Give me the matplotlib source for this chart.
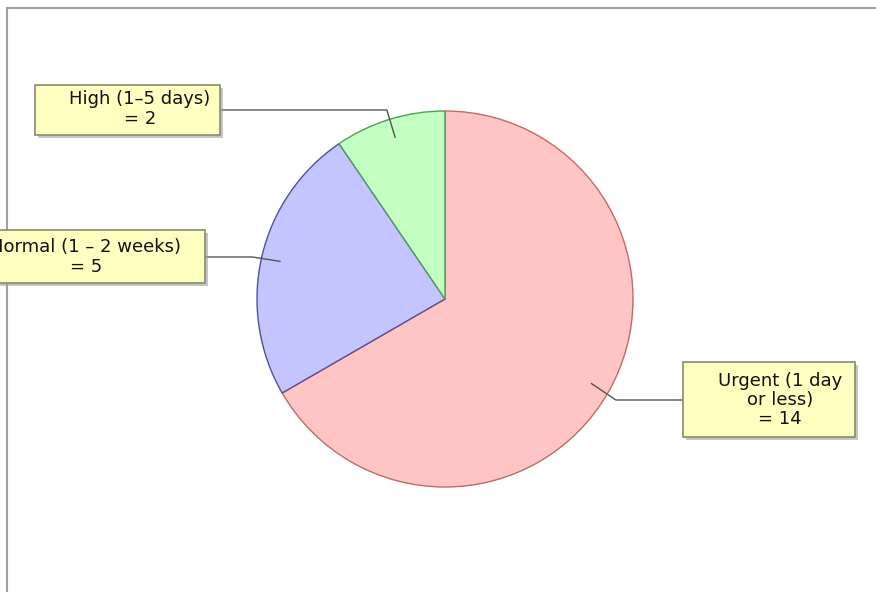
import numpy as np
import matplotlib
matplotlib.use("Agg")
import matplotlib.pyplot as plt
from matplotlib.patches import Rectangle

labels = ["Urgent (1 day\nor less)", "Normal (1 – 2 weeks)", "High (1–5 days)"]
values = [14, 5, 2]
colors = ["#FFC4C4", "#C4C4FF", "#C4FFC4"]
edges = ["#C06a6a", "#5050A0", "#50A050"]

W, H = 876, 592
fig = plt.figure(figsize=(W / 100, H / 100), dpi=100)
ax = fig.add_axes([0, 0, 1, 1])
ax.set_xlim(0, W)
ax.set_ylim(0, H)
ax.set_aspect("equal")
ax.axis("off")

# frame
ax.add_patch(Rectangle((7, -10), W + 20, H - 8 + 10, fill=False, edgecolor="#A0A0A0", lw=1.5))

cx, cy, r = 445, H - 299, 188
wedges, _ = ax.pie(values, colors=colors, startangle=90, counterclock=False,
                   center=(cx, cy), radius=r, frame=True,
                   wedgeprops=dict(linewidth=1.0))
for w, ec in zip(wedges, edges):
    w.set_edgecolor(ec)
ax.set_xlim(0, W)
ax.set_ylim(0, H)
ax.axis("off")

# label boxes: (left, top, right, bottom) in image pixel coords
boxes = [(683, 362, 855, 437), (-20, 230, 205, 283), (35, 85, 220, 135)]
text_pos = [(780, 400), (86, 257), (140, 109)]
line_y = [400, 257, 110]

for w, v, lab, (l, t, rr, b), (tx, ty), ly in zip(wedges, values, labels, boxes, text_pos, line_y):
    mid = np.deg2rad((w.theta1 + w.theta2) / 2)
    ax0, ay0 = cx + 0.90 * r * np.cos(mid), cy + 0.90 * r * np.sin(mid)
    ex, ey = cx + 1.05 * r * np.cos(mid), cy + 1.05 * r * np.sin(mid)
    bx = l if l > cx else rr
    ax.plot([ax0, ex, bx], [ay0, H - ly, H - ly], color="#555555", lw=1.0, zorder=3)
    # shadow
    ax.add_patch(Rectangle((l + 3, H - b - 3), rr - l, b - t, facecolor="#A0A0A0",
                           edgecolor="none", alpha=0.6, zorder=4))
    ax.add_patch(Rectangle((l, H - b), rr - l, b - t, facecolor="#FFFFC0",
                           edgecolor="#8A8A70", lw=1.2, zorder=5))
    ax.text(tx, H - ty, f"{lab}\n= {v}", ha="center", va="center",
            multialignment="center", fontsize=13, color="#111111",
            family="DejaVu Sans", zorder=6, linespacing=1.1)

fig.savefig("out.png", dpi=100)
